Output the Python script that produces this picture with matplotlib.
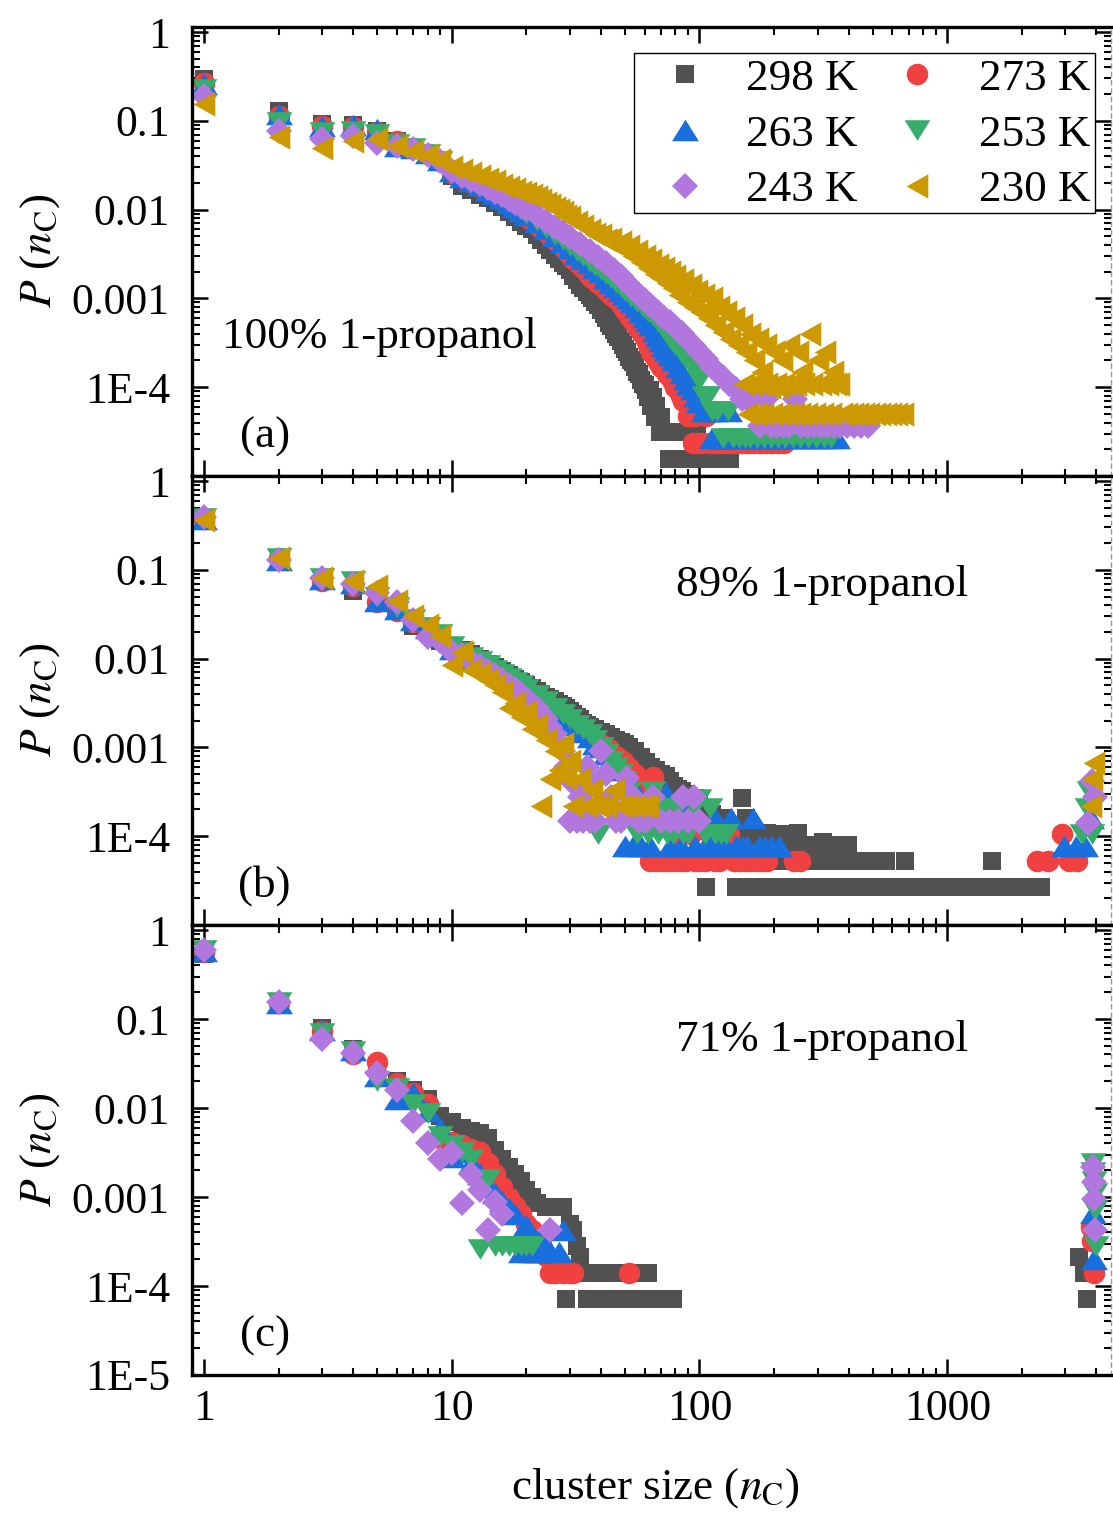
import numpy as np
import matplotlib
matplotlib.use("Agg")
import matplotlib.pyplot as plt
from matplotlib.path import Path
from matplotlib.patches import Rectangle
from matplotlib.ticker import FixedLocator, FixedFormatter, LogLocator, NullFormatter

# ---------------------------------------------------------------------------
# Cluster-size distributions P(n_C): (cluster size, probability) pairs
# ---------------------------------------------------------------------------
temperatures = ["298 K", "273 K", "263 K", "253 K", "243 K", "230 K"]
compositions = ["100% 1-propanol", "89% 1-propanol", "71% 1-propanol"]
panel_tags = ["(a)", "(b)", "(c)"]

# ---- (a) 100 % 1-propanol ----
a298 = [(1, 0.296), (2, 0.13), (3, 0.092), (4, 0.089), (5, 0.077), (6, 0.059), (7, 0.05), (8, 0.042), (9, 0.034), (10, 0.024),
        (11, 0.0185), (12, 0.0165), (13, 0.0148), (14, 0.0134), (15, 0.012), (16, 0.0106), (17, 0.0094), (18, 0.0083), (19, 0.0073), (20, 0.0066),
        (21, 0.006), (22, 0.0052), (23, 0.0046), (24, 0.004), (25, 0.0035), (26, 0.0031), (27, 0.0028), (28, 0.0025), (29, 0.0023), (30, 0.0021),
        (31, 0.0018), (32, 0.0016), (33, 0.0014), (34, 0.0013), (35, 0.00118), (36, 0.00108), (37, 0.001), (38, 0.00092), (39, 0.00084), (40, 0.00074),
        (41, 0.00066), (42, 0.0006), (43, 0.00053), (44, 0.00049), (45, 0.00044), (46, 0.0004), (47, 0.00037), (48, 0.00033), (49, 0.0003), (50, 0.00027),
        (51, 0.00025), (52, 0.00022), (53, 0.0002), (54, 0.00019), (55, 0.00017), (56, 0.00015), (57, 0.00014), (58, 0.00012), (59, 0.00011), (60, 0.000107),
        (61, 9.2e-5), (62, 7.7e-5), (63, 9.2e-5), (64, 6.2e-5), (65, 7.7e-5), (66, 4.6e-5), (67, 6.2e-5), (68, 4.6e-5), (69, 3.1e-5), (70, 4.6e-5),
        (72, 3.1e-5), (74, 3.1e-5), (75, 1.55e-5), (76, 3.1e-5), (78, 1.55e-5), (80, 3.1e-5), (82, 1.55e-5), (84, 1.55e-5), (86, 3.1e-5), (88, 1.55e-5),
        (90, 3.1e-5), (92, 1.55e-5), (95, 1.55e-5), (98, 3.1e-5), (100, 1.55e-5), (104, 1.55e-5), (108, 1.55e-5), (112, 1.55e-5), (117, 1.55e-5),
        (122, 1.55e-5), (127, 1.55e-5), (133, 1.55e-5)]
a273 = [(1, 0.27), (2, 0.114), (3, 0.088), (4, 0.085), (5, 0.075), (6, 0.059), (7, 0.05), (8, 0.042), (9, 0.035), (10, 0.026),
        (11, 0.023), (12, 0.0205), (13, 0.0182), (14, 0.0162), (15, 0.0145), (16, 0.0128), (17, 0.0114), (18, 0.0102), (19, 0.0092), (20, 0.0083),
        (21, 0.0075), (22, 0.0068), (23, 0.0062), (24, 0.0057), (25, 0.0051), (26, 0.0046), (27, 0.0042), (28, 0.0038), (29, 0.0034), (30, 0.0031),
        (31, 0.0028), (32, 0.0026), (33, 0.0024), (34, 0.0022), (35, 0.002), (36, 0.0018), (37, 0.0017), (38, 0.0016), (39, 0.0015), (40, 0.0014),
        (42, 0.00125), (44, 0.0011), (46, 0.00098), (48, 0.00086), (50, 0.00075), (52, 0.00064), (54, 0.00055), (56, 0.00048), (58, 0.00042), (60, 0.00036),
        (62, 0.0003), (64, 0.00025), (66, 0.00022), (68, 0.00019), (70, 0.00017), (72, 0.00016), (74, 0.00014), (76, 0.00013), (78, 0.000115), (80, 0.0001),
        (82, 9.4e-5), (84, 8e-5), (86, 7e-5), (88, 7e-5), (90, 4.7e-5), (92, 4.7e-5), (94, 2.35e-5), (96, 4.7e-5), (98, 2.35e-5), (102, 2.35e-5),
        (106, 4.7e-5), (110, 2.35e-5), (115, 2.35e-5), (120, 2.35e-5), (126, 2.35e-5), (132, 2.35e-5), (140, 2.35e-5), (148, 2.35e-5), (156, 2.35e-5),
        (165, 2.35e-5), (175, 2.35e-5), (185, 2.35e-5), (196, 2.35e-5), (208, 2.35e-5), (220, 2.35e-5)]
a263 = [(1, 0.26), (2, 0.12), (3, 0.088), (4, 0.089), (5, 0.08), (6, 0.052), (7, 0.05), (8, 0.043), (9, 0.036), (10, 0.027),
        (11, 0.0235), (12, 0.021), (13, 0.0188), (14, 0.0168), (15, 0.015), (16, 0.0134), (17, 0.012), (18, 0.0108), (19, 0.0097), (20, 0.0088),
        (22, 0.0072), (24, 0.006), (26, 0.005), (28, 0.0043), (30, 0.0037), (32, 0.0032), (34, 0.0028), (36, 0.0025), (38, 0.0022), (40, 0.002),
        (42, 0.0017), (44, 0.0015), (46, 0.00135), (48, 0.0012), (50, 0.00112), (52, 0.001), (54, 0.0009), (56, 0.0008), (58, 0.0007), (60, 0.00062),
        (62, 0.00056), (64, 0.0005), (66, 0.00043), (68, 0.00038), (70, 0.00033), (72, 0.00029), (74, 0.00026), (76, 0.00023), (79, 0.0002), (82, 0.00017),
        (85, 0.000145), (88, 0.000125), (91, 0.00011), (94, 9.5e-5), (97, 8e-5), (100, 6.8e-5), (104, 5.4e-5), (108, 5.4e-5), (112, 2.7e-5), (116, 5.4e-5),
        (120, 2.7e-5), (126, 2.7e-5), (132, 5.4e-5), (138, 2.7e-5), (145, 2.7e-5), (152, 2.7e-5), (160, 2.7e-5), (170, 2.7e-5), (180, 2.7e-5), (190, 2.7e-5),
        (202, 2.7e-5), (215, 2.7e-5), (228, 2.7e-5), (242, 2.7e-5), (257, 2.7e-5), (273, 2.7e-5), (290, 2.7e-5), (310, 2.7e-5), (333, 2.7e-5), (358, 2.7e-5)]
a253 = [(1, 0.23), (2, 0.096), (3, 0.074), (4, 0.077), (5, 0.071), (6, 0.055), (7, 0.049), (8, 0.042), (9, 0.035), (10, 0.026),
        (11, 0.0235), (12, 0.021), (13, 0.019), (14, 0.017), (15, 0.0152), (16, 0.0137), (17, 0.0123), (18, 0.011), (19, 0.0099), (20, 0.009),
        (22, 0.0074), (24, 0.0062), (26, 0.0052), (28, 0.0045), (30, 0.0039), (32, 0.0034), (34, 0.003), (36, 0.0026), (38, 0.0023), (40, 0.0021),
        (42, 0.0019), (44, 0.0017), (46, 0.0015), (48, 0.00135), (50, 0.0012), (53, 0.00105), (56, 0.00092), (59, 0.0008), (62, 0.0007), (65, 0.00064),
        (68, 0.00054), (71, 0.00047), (74, 0.0004), (77, 0.00034), (80, 0.0003), (84, 0.00025), (88, 0.00021), (92, 0.00018), (96, 0.00016), (100, 0.00012),
        (104, 8e-5), (108, 8e-5), (112, 5.4e-5), (118, 5.4e-5), (124, 2.7e-5), (130, 5.4e-5), (136, 2.7e-5), (144, 2.7e-5), (152, 2.7e-5), (160, 2.7e-5),
        (170, 2.7e-5), (182, 2.7e-5), (195, 2.7e-5), (208, 2.7e-5), (222, 2.7e-5), (238, 2.7e-5), (255, 2.7e-5), (275, 2.7e-5), (296, 2.7e-5), (318, 2.7e-5),
        (340, 2.7e-5)]
a243 = [(1, 0.19), (2, 0.077), (3, 0.062), (4, 0.068), (5, 0.057), (6, 0.052), (7, 0.048), (8, 0.041), (9, 0.035), (10, 0.027),
        (11, 0.024), (12, 0.0215), (13, 0.0195), (14, 0.0177), (15, 0.016), (16, 0.0145), (17, 0.0132), (18, 0.012), (19, 0.011), (20, 0.0101),
        (22, 0.0086), (24, 0.0074), (26, 0.0064), (28, 0.0056), (30, 0.0049), (33, 0.0041), (36, 0.0034), (39, 0.0029), (42, 0.0025), (45, 0.0021),
        (48, 0.0018), (51, 0.0015), (54, 0.00128), (57, 0.0011), (60, 0.00097), (64, 0.00083), (68, 0.0007), (72, 0.0006), (76, 0.00054), (80, 0.00048),
        (85, 0.00041), (90, 0.00034), (95, 0.00029), (100, 0.00025), (106, 0.00021), (112, 0.00017), (118, 0.00015), (125, 0.00013), (132, 0.00011), (140, 9.5e-5),
        (148, 7.4e-5), (156, 7.4e-5), (165, 7.4e-5), (175, 3.7e-5), (185, 7.4e-5), (195, 3.7e-5), (206, 3.7e-5), (218, 3.7e-5), (230, 3.7e-5), (244, 7.4e-5),
        (258, 3.7e-5), (273, 3.7e-5), (290, 3.7e-5), (308, 3.7e-5), (327, 3.7e-5), (348, 3.7e-5), (370, 3.7e-5), (395, 3.7e-5), (420, 3.7e-5), (450, 3.7e-5),
        (480, 3.7e-5)]
a230 = [(1, 0.154), (2, 0.065), (3, 0.05), (4, 0.059), (5, 0.062), (6, 0.052), (7, 0.046), (8, 0.041), (9, 0.036), (10, 0.03),
        (11, 0.028), (12, 0.026), (13, 0.024), (14, 0.022), (15, 0.021), (16, 0.019), (17, 0.018), (18, 0.017), (19, 0.016), (20, 0.0155),
        (21, 0.0145), (22, 0.0138), (23, 0.013), (24, 0.012), (25, 0.0112), (26, 0.0105), (27, 0.0099), (28, 0.0093), (29, 0.0085), (30, 0.0082),
        (32, 0.0072), (34, 0.0066), (36, 0.0059), (38, 0.0053), (40, 0.0052), (42, 0.0045), (44, 0.0047), (46, 0.004), (48, 0.0043), (50, 0.0035),
        (52, 0.0039), (54, 0.003), (56, 0.0034), (58, 0.0026), (60, 0.003), (62, 0.0022), (64, 0.0027), (66, 0.0019), (68, 0.0024), (70, 0.0017),
        (72, 0.0022), (74, 0.0015), (76, 0.002), (78, 0.0013), (80, 0.0018), (83, 0.0011), (86, 0.0016), (89, 0.0009), (92, 0.0014), (95, 0.0008),
        (98, 0.0012), (101, 0.0007), (104, 0.0011), (108, 0.0006), (112, 0.001), (116, 0.0005), (120, 0.0008), (124, 0.00042), (128, 0.0007), (133, 0.00035),
        (138, 0.0006), (143, 0.0003), (148, 0.0005), (151, 0.00011), (154, 0.00025), (157, 5e-5), (160, 0.0004), (163, 0.00011), (166, 0.0002), (169, 5e-5),
        (172, 0.00035), (175, 0.00011), (178, 0.00015), (181, 5e-5), (185, 0.0003), (188, 0.00011), (192, 0.0001), (196, 5e-5), (200, 0.00025), (204, 0.00011),
        (208, 0.0001), (212, 5e-5), (216, 0.0002), (220, 0.00011), (225, 5e-5), (230, 0.0003), (235, 0.00011), (240, 5e-5), (245, 0.00011), (250, 0.00025),
        (255, 5e-5), (260, 0.00015), (265, 0.00011), (272, 5e-5), (278, 0.0004), (285, 0.00011), (292, 5e-5), (300, 0.0002), (308, 0.00011), (316, 5e-5),
        (322, 0.00025), (330, 0.00011), (338, 5e-5), (345, 0.00015), (355, 0.00011), (365, 0.00011), (375, 5e-5), (395, 5e-5), (415, 5e-5), (437, 5e-5),
        (460, 5e-5), (485, 5e-5), (510, 5e-5), (537, 5e-5), (565, 5e-5), (595, 5e-5), (627, 5e-5), (660, 5e-5)]

# ---- (b) 89 % 1-propanol ----
b298 = [(1, 0.36), (2, 0.13), (3, 0.078), (4, 0.058), (5, 0.043), (6, 0.034), (7, 0.0235), (8, 0.02), (9, 0.016), (10, 0.0135),
        (11, 0.0125), (12, 0.0112), (13, 0.0098), (14, 0.0088), (15, 0.008), (16, 0.0072), (17, 0.0065), (18, 0.0059), (19, 0.0054), (20, 0.005),
        (21, 0.0047), (22, 0.0043), (23, 0.004), (24, 0.0037), (25, 0.0035), (26, 0.0033), (27, 0.0031), (28, 0.0029), (29, 0.0028), (30, 0.0026),
        (31, 0.0024), (32, 0.0022), (33, 0.0021), (34, 0.0019), (35, 0.0018), (36, 0.0017), (38, 0.0016), (40, 0.0015), (42, 0.0014), (44, 0.0013),
        (46, 0.0012), (48, 0.00115), (50, 0.0011), (52, 0.001), (55, 0.0009), (58, 0.00078), (61, 0.00068), (64, 0.0006), (67, 0.00055), (70, 0.0005),
        (73, 0.00048), (76, 0.00042), (79, 0.00037), (82, 0.00034), (85, 0.00032), (88, 0.0003), (92, 0.00027), (96, 0.00027), (100, 0.00024), (104, 0.00021),
        (106, 2.65e-5), (108, 0.00019), (112, 0.00018), (116, 0.00016), (120, 0.00016), (125, 0.00016), (130, 0.00013), (136, 0.00013),
        (140, 2.65e-5), (143, 0.00011), (146, 2.65e-5), (148, 0.00027), (151, 2.65e-5), (154, 0.00016), (157, 2.65e-5), (160, 0.00011), (164, 2.65e-5),
        (168, 0.0001), (172, 2.65e-5), (176, 5.3e-5), (180, 0.00011), (184, 2.65e-5), (188, 0.00011), (192, 5.3e-5), (196, 2.65e-5), (200, 7.95e-5),
        (205, 2.65e-5), (210, 5.3e-5), (215, 0.000106), (220, 2.65e-5), (226, 7.95e-5), (232, 5.3e-5), (238, 2.65e-5), (244, 0.000106), (250, 0.00011),
        (256, 2.65e-5), (262, 7.95e-5), (269, 5.3e-5), (276, 2.65e-5), (283, 7.95e-5), (290, 5.3e-5), (298, 2.65e-5), (306, 7.95e-5), (314, 8.5e-5),
        (322, 5.3e-5), (330, 2.65e-5), (339, 7.95e-5), (348, 5.3e-5), (357, 2.65e-5), (366, 7.95e-5), (376, 5.3e-5), (386, 2.65e-5), (396, 7.95e-5),
        (407, 5.3e-5), (418, 2.65e-5), (430, 5.3e-5), (442, 2.65e-5), (455, 5.3e-5), (468, 2.65e-5), (482, 5.3e-5), (496, 2.65e-5), (510, 5.3e-5),
        (525, 2.65e-5), (540, 5.3e-5), (556, 2.65e-5), (565, 5.3e-5), (580, 2.65e-5), (600, 2.65e-5), (625, 2.65e-5), (650, 2.65e-5), (675, 5.3e-5),
        (700, 2.65e-5), (730, 2.65e-5), (760, 2.65e-5), (790, 2.65e-5), (825, 2.65e-5), (860, 2.65e-5), (895, 2.65e-5), (935, 2.65e-5), (975, 2.65e-5),
        (1015, 2.65e-5), (1060, 2.65e-5), (1105, 2.65e-5), (1150, 2.65e-5), (1200, 2.65e-5), (1250, 2.65e-5), (1300, 2.65e-5), (1355, 2.65e-5),
        (1410, 2.65e-5), (1470, 2.65e-5), (1510, 5.3e-5), (1530, 2.65e-5), (1595, 2.65e-5), (1660, 2.65e-5), (1730, 2.65e-5), (1800, 2.65e-5),
        (1875, 2.65e-5), (1955, 2.65e-5), (2035, 2.65e-5), (2120, 2.65e-5), (2210, 2.65e-5), (2300, 2.65e-5), (2400, 2.65e-5)]
b273 = [(1, 0.37), (2, 0.135), (3, 0.075), (4, 0.065), (5, 0.043), (6, 0.034), (7, 0.026), (8, 0.022), (9, 0.017), (10, 0.013),
        (11, 0.0115), (12, 0.01), (13, 0.009), (14, 0.008), (15, 0.0072), (16, 0.0064), (17, 0.0058), (18, 0.0052), (19, 0.0047), (20, 0.0043),
        (22, 0.0037), (24, 0.0031), (26, 0.0027), (28, 0.0023), (30, 0.002), (32, 0.0018), (34, 0.0016), (36, 0.0014), (38, 0.0012), (40, 0.0011),
        (43, 0.00095), (46, 0.0008), (49, 0.0007), (52, 0.00058), (55, 0.0005), (58, 0.00042), (61, 0.00037), (63, 5.3e-5), (65, 0.00046), (67, 5.3e-5),
        (69, 0.00027), (71, 5.3e-5), (73, 0.00021), (75, 5.3e-5), (77, 0.00016), (79, 5.3e-5), (81, 0.000106), (84, 5.3e-5), (88, 5.3e-5), (92, 0.000106),
        (96, 5.3e-5), (100, 5.3e-5), (105, 5.3e-5), (110, 0.000106), (115, 5.3e-5), (120, 5.3e-5), (126, 0.000106), (132, 0.000106), (138, 5.3e-5),
        (145, 5.3e-5), (152, 5.3e-5), (160, 5.3e-5), (170, 5.3e-5), (180, 5.3e-5), (188, 5.3e-5), (240, 5.3e-5), (255, 5.3e-5),
        (2300, 5.3e-5), (2550, 5.3e-5), (2900, 0.000106), (3100, 5.3e-5), (3350, 5.3e-5)]
b263 = [(1, 0.37), (2, 0.13), (3, 0.078), (4, 0.072), (5, 0.045), (6, 0.036), (7, 0.027), (8, 0.022), (9, 0.018), (10, 0.013),
        (11, 0.0115), (12, 0.0102), (13, 0.0091), (14, 0.0081), (15, 0.0073), (16, 0.0065), (17, 0.0059), (18, 0.0053), (19, 0.0048), (20, 0.0044),
        (22, 0.0037), (24, 0.0031), (26, 0.0027), (28, 0.0023), (30, 0.002), (32, 0.0018), (34, 0.0015), (36, 0.0013), (38, 0.0011), (40, 0.001),
        (42, 0.00085), (44, 0.00075), (46, 0.00065), (48, 0.00055), (50, 7.8e-5), (52, 0.00039), (54, 7.8e-5), (56, 0.00031), (58, 7.8e-5), (60, 0.00023),
        (63, 7.8e-5), (66, 0.00016), (70, 0.00023), (73, 0.00031), (76, 7.8e-5), (80, 0.00016), (84, 7.8e-5), (88, 0.00023), (92, 0.00016), (96, 7.8e-5),
        (100, 0.00016), (105, 7.8e-5), (110, 7.8e-5), (115, 0.00016), (121, 7.8e-5), (127, 7.8e-5), (134, 0.00016), (141, 7.8e-5), (148, 7.8e-5),
        (156, 7.8e-5), (165, 0.00016), (174, 7.8e-5), (184, 7.8e-5), (195, 7.8e-5), (210, 7.8e-5),
        (2950, 7.8e-5), (3300, 7.8e-5), (3600, 7.8e-5), (3800, 0.00016)]
b253 = [(1, 0.38), (2, 0.135), (3, 0.08), (4, 0.075), (5, 0.05), (6, 0.038), (7, 0.028), (8, 0.023), (9, 0.019), (10, 0.014),
        (11, 0.012), (12, 0.0105), (13, 0.0094), (14, 0.0084), (15, 0.0075), (16, 0.0068), (17, 0.0061), (18, 0.0055), (19, 0.005), (20, 0.0046),
        (22, 0.0039), (24, 0.0033), (26, 0.0028), (28, 0.0024), (30, 0.0021), (32, 0.0018), (34, 0.0016), (36, 0.0014), (38, 0.0012), (39, 0.000105),
        (40, 0.001), (42, 0.00085), (44, 0.0007), (46, 0.0006), (48, 0.00052), (50, 0.00042), (52, 0.00032), (54, 0.00021), (56, 0.000105), (59, 0.00021),
        (62, 0.000105), (65, 0.00032), (68, 0.000105), (71, 0.00021), (74, 0.000105), (78, 0.000105), (82, 0.00021), (86, 0.000105), (90, 0.000105),
        (95, 0.00021), (100, 0.00026), (105, 0.000105), (110, 0.00021), (116, 0.000105), (122, 0.000105), (128, 0.000105),
        (3500, 0.000105), (3650, 0.00021), (3750, 0.00032), (3850, 0.000105)]
b243 = [(1, 0.39), (2, 0.13), (3, 0.08), (4, 0.07), (5, 0.055), (6, 0.043), (7, 0.027), (8, 0.0175), (9, 0.016), (10, 0.012),
        (11, 0.011), (12, 0.0095), (13, 0.0083), (14, 0.0073), (15, 0.0065), (16, 0.0057), (17, 0.005), (18, 0.0045), (19, 0.004), (20, 0.0035),
        (21, 0.0031), (22, 0.0028), (23, 0.0024), (24, 0.0021), (25, 0.0017), (26, 0.0014), (27, 0.0011), (28, 0.0009), (29, 0.0006), (30, 0.00015),
        (31, 0.0004), (32, 0.00015), (33, 0.00028), (34, 0.00015), (35, 0.0006), (36, 0.00015), (37, 0.0004), (38, 0.00015), (40, 0.0009), (42, 0.0005),
        (44, 0.00028), (46, 0.00015), (48, 0.00015), (51, 0.00045), (54, 0.00028), (57, 0.00015), (61, 0.00015), (65, 0.00028), (70, 0.00015),
        (76, 0.00015), (82, 0.00015), (86, 0.00028), (90, 0.00015), (95, 0.00028), (100, 0.00015),
        (3700, 0.00014), (3850, 0.00042), (3950, 0.00028)]
b230 = [(1, 0.36), (2, 0.135), (3, 0.08), (4, 0.075), (5, 0.066), (6, 0.045), (7, 0.03), (8, 0.024), (9, 0.018), (10, 0.0085),
        (11, 0.012), (12, 0.0075), (13, 0.0068), (14, 0.0058), (15, 0.005), (16, 0.0042), (17, 0.0028), (18, 0.0032), (19, 0.0022), (20, 0.0025),
        (21, 0.0016), (22, 0.0018), (23, 0.00022), (24, 0.0012), (25, 0.00044), (26, 0.0009), (27, 0.00055), (28, 0.0011), (29, 0.00045), (30, 0.0007),
        (31, 0.00022), (33, 0.00044), (35, 0.00022), (37, 0.00033), (39, 0.00022), (42, 0.00022), (45, 0.00033), (48, 0.00022), (51, 0.00022),
        (55, 0.00022), (59, 0.00022), (62, 0.00022),
        (3800, 0.00022), (3850, 0.00044), (3900, 0.00066)]

# ---- (c) 71 % 1-propanol ----
c298 = [(1, 0.54), (2, 0.145), (3, 0.08), (4, 0.046), (5, 0.03), (6, 0.02), (7, 0.016), (8, 0.0126), (9, 0.0081), (10, 0.0069),
        (11, 0.006), (12, 0.0055), (13, 0.0052), (14, 0.0046), (15, 0.0034), (16, 0.0027), (17, 0.0022), (18, 0.0018), (19, 0.0015), (20, 0.0012),
        (21, 0.001), (22, 0.00085), (24, 0.00078), (26, 0.00078), (28, 0.00078), (29, 7.1e-5), (30, 0.0005), (31, 0.00043), (32, 0.00028), (33, 0.00021),
        (34, 0.00014), (35, 7.1e-5), (36, 0.00014), (38, 7.1e-5), (40, 0.00014), (42, 7.1e-5), (44, 7.1e-5), (46, 0.00014), (48, 7.1e-5), (50, 0.00014),
        (52, 7.1e-5), (54, 0.00014), (56, 7.1e-5), (58, 0.00014), (60, 7.1e-5), (62, 0.00014), (64, 7.1e-5), (67, 7.1e-5), (70, 7.1e-5), (74, 7.1e-5),
        (78, 7.1e-5), (3400, 0.00021), (3550, 0.00014), (3650, 7.1e-5)]
c273 = [(1, 0.57), (2, 0.15), (3, 0.073), (4, 0.04), (5, 0.033), (6, 0.019), (7, 0.0146), (8, 0.011), (9, 0.0046), (10, 0.0042),
        (11, 0.0038), (12, 0.0035), (13, 0.0032), (14, 0.0024), (15, 0.0018), (16, 0.0013), (17, 0.00098), (18, 0.0008), (19, 0.00065), (20, 0.0005),
        (21, 0.00043), (22, 0.00029), (23, 0.00029), (24, 0.00022), (25, 0.00014), (26, 0.00014), (28, 0.00014), (30, 0.00014), (31, 0.00014),
        (52, 0.00014), (3800, 0.00046), (3850, 0.00032), (3900, 0.00014)]
c263 = [(1, 0.58), (2, 0.15), (3, 0.075), (4, 0.045), (5, 0.023), (6, 0.0126), (7, 0.0146), (8, 0.0093), (9, 0.0059), (10, 0.0028),
        (11, 0.0032), (12, 0.0024), (13, 0.0018), (14, 0.0013), (15, 0.0011), (16, 0.0009), (17, 0.00075), (18, 0.00065), (19, 0.00024), (20, 0.00048),
        (21, 0.00024), (22, 0.00024), (23, 0.00036), (24, 0.00024), (25, 0.00024), (27, 0.00024), (28, 0.00043),
        (3880, 0.00067), (3920, 0.0002)]
c253 = [(1, 0.6), (2, 0.155), (3, 0.069), (4, 0.044), (5, 0.02), (6, 0.017), (7, 0.011), (8, 0.0088), (9, 0.0048), (10, 0.0038),
        (11, 0.0032), (12, 0.0027), (13, 0.00026), (14, 0.0016), (15, 0.00028), (16, 0.00028), (17, 0.00028), (18, 0.00028), (19, 0.00028),
        (20, 0.00028), (21, 0.00028),
        (3870, 0.0024), (3890, 0.0019), (3910, 0.0015), (3930, 0.0011), (3950, 0.00072), (3970, 0.00028)]
c243 = [(1, 0.59), (2, 0.155), (3, 0.059), (4, 0.042), (5, 0.025), (6, 0.016), (7, 0.0072), (8, 0.004), (9, 0.0027), (10, 0.0031),
        (11, 0.00085), (12, 0.0018), (13, 0.0012), (14, 0.00043), (15, 0.00088), (16, 0.00065), (25, 0.00043),
        (3880, 0.0022), (3900, 0.00146), (3920, 0.00094), (3940, 0.00043)]

panel_a = [a298, a273, a263, a253, a243, a230]
panel_b = [b298, b273, b263, b253, b243, b230]
panel_c = [c298, c273, c263, c253, c243]

y_tick_values = [1e-5, 1e-4, 1e-3, 1e-2, 1e-1, 1]
y_tick_labels = ["1E-5", "1E-4", "0.001", "0.01", "0.1", "1"]
x_tick_values = [1, 10, 100, 1000]
x_tick_labels = ["1", "10", "100", "1000"]

# ---------------------------------------------------------------------------
# Styling
# ---------------------------------------------------------------------------
plt.rcParams["font.family"] = ["Liberation Serif", "DejaVu Serif"]
plt.rcParams["mathtext.fontset"] = "stix"
FS_TICK = 31.5
FS_TEXT = 32.5

colors = ["#515151", "#F14040", "#1A6FDF", "#37AD6B", "#B177DE", "#CC9900"]
tri_up = Path([(-1, -0.8), (1, -0.8), (0, 0.8), (-1, -0.8)], closed=True)
tri_down = Path([(-1, 0.8), (1, 0.8), (0, -0.8), (-1, 0.8)], closed=True)
tri_left = Path([(-0.89, 0), (0.89, 1), (0.89, -1), (-0.89, 0)], closed=True)
markers = ["s", "o", tri_up, tri_down, "D", tri_left]
marker_sizes = [13.2, 15.5, 19.4, 18.5, 13.6, 17.5]

W, H = 1113, 1513
fig = plt.figure(figsize=(W / 100, H / 100), dpi=100)


def px_box(x0, y0, x1, y1):
    return [x0 / W, 1 - y1 / H, (x1 - x0) / W, (y1 - y0) / H]


boxes = [(192, 27, 1111, 476), (192, 476, 1111, 925), (192, 925, 1111, 1375)]
axes = [fig.add_axes(px_box(*b)) for b in boxes]


def style_axes(ax, is_bottom):
    ax.set_xscale("log")
    ax.set_yscale("log")
    ax.set_xlim(0.895, 4580)
    ax.set_ylim(1e-5, 1.14)
    ax.xaxis.set_major_locator(FixedLocator(x_tick_values))
    if is_bottom:
        ax.xaxis.set_major_formatter(FixedFormatter(x_tick_labels))
    else:
        ax.xaxis.set_major_formatter(NullFormatter())
    ax.xaxis.set_minor_locator(LogLocator(base=10, subs=np.arange(2, 10), numticks=30))
    ax.xaxis.set_minor_formatter(NullFormatter())
    ax.yaxis.set_major_locator(FixedLocator(y_tick_values))
    labels = list(y_tick_labels)
    if not is_bottom:
        labels[0] = ""
    ax.yaxis.set_major_formatter(FixedFormatter(labels))
    ax.yaxis.set_minor_locator(LogLocator(base=10, subs=np.arange(2, 10), numticks=30))
    ax.yaxis.set_minor_formatter(NullFormatter())
    ax.tick_params(which="both", direction="in", top=True, right=True, colors="black")
    ax.tick_params(which="major", length=11.5, width=1.8, labelsize=FS_TICK)
    ax.tick_params(which="minor", length=5.4, width=1.5)
    ax.tick_params(axis="x", which="major", pad=10)
    ax.tick_params(axis="y", which="major", pad=16)
    for side in ("left", "top", "bottom"):
        ax.spines[side].set_linewidth(2.4)
    ax.spines["right"].set(linewidth=1.0, color="#9a9a9a", linestyle=(0, (3, 3)))


handles = []
for i, (ax, series) in enumerate(zip(axes, [panel_a, panel_b, panel_c])):
    for k, pts in enumerate(series):
        n = np.array([p[0] for p in pts], dtype=float)
        prob = np.array([p[1] for p in pts], dtype=float)
        h, = ax.plot(n, prob, linestyle="none", marker=markers[k], markersize=marker_sizes[k],
                     color=colors[k], markeredgewidth=0, label=temperatures[k])
        if i == 0:
            handles.append(h)
    style_axes(ax, i == 2)

# panel annotations
axes[0].text(0.0326, 0.31, compositions[0], transform=axes[0].transAxes, fontsize=FS_TEXT, ha="left", va="center")
axes[1].text(0.686, 0.757, compositions[1], transform=axes[1].transAxes, fontsize=FS_TEXT, ha="center", va="center")
axes[2].text(0.686, 0.744, compositions[2], transform=axes[2].transAxes, fontsize=FS_TEXT, ha="center", va="center")
for ax, tag in zip(axes, panel_tags):
    ax.text(0.079, 0.088, tag, transform=ax.transAxes, fontsize=FS_TEXT, ha="center", va="center")

# axis titles
for yc in (251, 700, 1150):
    fig.text(40 / W, 1 - yc / H, r"$P$ ($n_{\mathrm{C}}$)", rotation=90, ha="center", va="center", fontsize=FS_TEXT)
fig.text(655 / W, 1 - 1488 / H, r"cluster size ($n_{\mathrm{C}}$)", ha="center", va="center", fontsize=FS_TEXT)

# legend (two columns, row-wise ordering of temperatures)
order = [0, 2, 4, 1, 3, 5]
leg = axes[0].legend([handles[j] for j in order], [temperatures[j] for j in order], ncol=2,
                     loc="upper left", bbox_to_anchor=(0.5115, 0.931), frameon=False, borderpad=0,
                     borderaxespad=0, handlelength=1.0, handletextpad=0.86, columnspacing=0.82,
                     labelspacing=0.34, fontsize=FS_TEXT)
axes[0].add_patch(Rectangle((0.481, 0.5857), 0.5016, 0.3563, transform=axes[0].transAxes,
                            fill=False, edgecolor="black", linewidth=1.0, zorder=5, clip_on=False))

fig.savefig("out.png", dpi=100)
